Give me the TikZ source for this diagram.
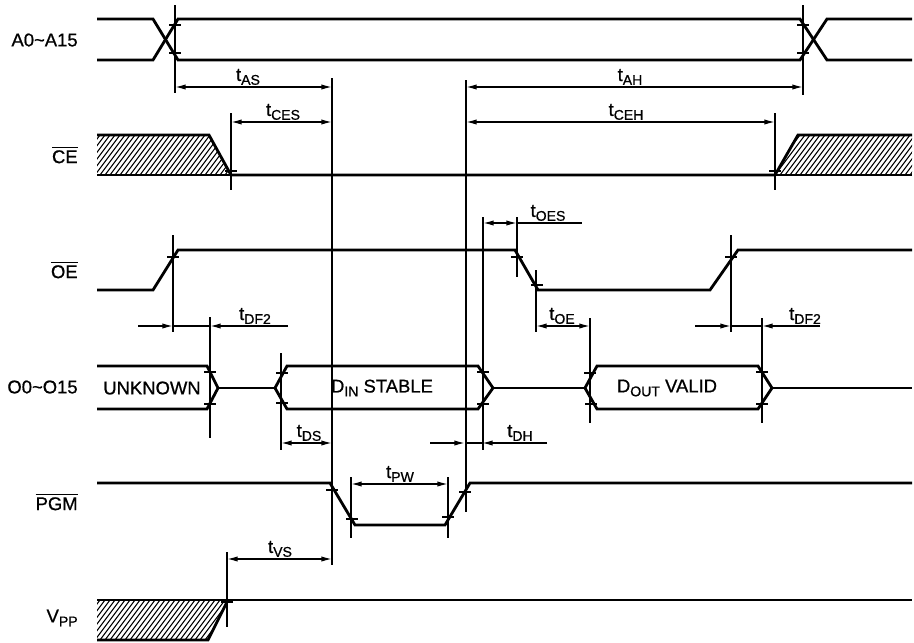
\documentclass[tikz,border=0pt]{standalone}
\usepackage{fontspec}
\setmainfont{Liberation Sans}[RawFeature={embolden=0.8}]
\usetikzlibrary{arrows.meta}
\newcommand\ovl[1]{$\overline{\mbox{#1}}$}
\newcommand\sbs[1]{\raisebox{-0.4ex}{\fontsize{8}{9}\selectfont #1}}
\newcommand\tim[1]{t\sbs{#1}}
\begin{document}
\begin{tikzpicture}[x=0.02cm, y=-0.02cm,
  font=\fontsize{10.5}{12}\selectfont,
  sig/.style={line width=1.6pt},
  guide/.style={line width=0.6pt},
  dim/.style={line width=0.8pt, {Latex[length=6pt,width=3pt]}-{Latex[length=6pt,width=3pt]}},
  dimto/.style={line width=0.8pt, -{Latex[length=6pt,width=3pt]}},
  tlabel/.style={anchor=south, inner sep=1pt},
  siglabel/.style={anchor=east, inner sep=0pt}]
  \useasboundingbox (0,0) rectangle (914,643);

  % Signal names
  \node[siglabel] (nA)   at (78,40)  {A0\textasciitilde A15};
  \node[siglabel] (nCE)  at (78,155) {\ovl{CE}};
  \node[siglabel] (nOE)  at (78,270) {\ovl{OE}};
  \node[siglabel] (nO)   at (78,387) {O0\textasciitilde O15};
  \node[siglabel] (nPGM) at (78,502) {\ovl{PGM}};
  \node[siglabel] (nVPP) at (78,618) {V\sbs{PP}};

  % Hatching (CE and VPP undefined)
  \begin{scope}
    \clip (97,135) -- (209,135) -- (231,175) -- (97,175) -- cycle;
    \foreach \x in {60,65,...,240} \draw[guide] (\x,175) -- ++(30,-40);
  \end{scope}
  \begin{scope}
    \clip (798,135) -- (912,135) -- (912,175) -- (775,175) -- cycle;
    \foreach \x in {740,745,...,920} \draw[guide] (\x,175) -- ++(30,-40);
  \end{scope}
  \begin{scope}
    \clip (97,600) -- (228,600) -- (208,640) -- (97,640) -- cycle;
    \foreach \x in {60,65,...,240} \draw[guide] (\x,640) -- ++(30,-40);
  \end{scope}

  % Waveforms
  \draw[sig] (97,19) -- (153,19) -- (178,60) -- (800,60) -- (827,19) -- (912,19);
  \draw[sig] (97,60) -- (153,60) -- (178,19) -- (800,19) -- (827,60) -- (912,60);
  \draw[sig] (97,135) -- (209,135) -- (231,175) -- (775,175) -- (798,135) -- (912,135);
  \draw[sig] (97,175) -- (912,175);
  \draw[sig] (97,290) -- (153,290) -- (178,250) -- (515,250) -- (538,290)
    -- (710,290) -- (738,250) -- (912,250);
  \draw[sig] (97,366) -- (207,366) -- (218,388) -- (207,409) -- (97,409);
  \draw[sig] (218,388) -- (275,388);
  \draw[sig] (287,366) -- (478,366) -- (493,388) -- (478,409) -- (287,409) -- (275,388) -- cycle;
  \draw[sig] (493,388) -- (585,388);
  \draw[sig] (597,366) -- (758,366) -- (772,388) -- (758,409) -- (597,409) -- (585,388) -- cycle;
  \draw[sig] (772,388) -- (912,388);
  \draw[sig] (97,483) -- (330,483) -- (355,525) -- (445,525) -- (470,483) -- (912,483);
  \draw[sig] (97,640) -- (208,640) -- (228,600);
  \draw[sig] (97,600) -- (912,600);

  % Bus texts
  \node (unk)  at (152,388) {UNKNOWN};
  \node (din)  at (382,388) {D\sbs{IN} STABLE};
  \node (dout) at (667,388) {D\sbs{OUT} VALID};

  % Reference lines
  \foreach \x/\ya/\yb in {175/5/93, 803/5/95, 332/78/565, 231/113/190, 466/80/512,
      775/113/190, 173/235/332, 517/217/277, 536/270/332, 483/217/450, 731/235/332,
      210/317/438, 762/318/423, 590/318/423, 281/353/450, 351/477/538, 448/477/538,
      227/552/627}
    \draw[guide] (\x,\ya) -- (\x,\yb);

  % Crossing ticks
  \foreach \x/\y in {175/25, 175/53, 803/25, 803/53, 231/171, 775/171, 173/257,
      517/257, 537/285, 731/257, 210/372, 210/404, 282/373, 282/403, 483/372,
      483/404, 590/373, 591/404, 762/372, 762/404, 332/490, 352/519, 448/517,
      465/492, 227/602}
    \draw[guide] (\x-6,\y) -- (\x+6,\y);

  % Timing arrows
  \draw[dim] (175,87) -- (332,87);
  \node[tlabel] (tAS) at (248,87) {\tim{AS}};
  \draw[dim] (231,122) -- (332,122);
  \node[tlabel] (tCES) at (283,122) {\tim{CES}};
  \draw[dim] (466,87) -- (803,87);
  \node[tlabel] (tAH) at (630,87) {\tim{AH}};
  \draw[dim] (466,122) -- (775,122);
  \node[tlabel] (tCEH) at (626,122) {\tim{CEH}};
  \draw[dim] (483,223) -- (517,223);
  \draw[guide, line width=0.8pt] (517,223) -- (582,223);
  \node[tlabel] (tOES) at (548,223) {\tim{OES}};
  \draw[dimto] (138,326) -- (173,326);
  \draw[guide, line width=0.8pt] (173,326) -- (210,326);
  \draw[dimto] (288,326) -- (210,326);
  \node[tlabel] (tDFa) at (255,326) {\tim{DF2}};
  \draw[dim] (536,326) -- (590,326);
  \node[tlabel] (tOE) at (562,326) {\tim{OE}};
  \draw[dimto] (695,326) -- (731,326);
  \draw[guide, line width=0.8pt] (731,326) -- (762,326);
  \draw[dimto] (820,326) -- (762,326);
  \node[tlabel] (tDFb) at (805,326) {\tim{DF2}};
  \draw[dim] (281,443) -- (332,443);
  \node[tlabel] (tDS) at (309,443) {\tim{DS}};
  \draw[dimto] (430,443) -- (465,443);
  \draw[guide, line width=0.8pt] (465,443) -- (482,443);
  \draw[dimto] (547,443) -- (482,443);
  \node[tlabel] (tDH) at (520,443) {\tim{DH}};
  \draw[dim] (351,484) -- (448,484);
  \node[tlabel] (tPW) at (400,484) {\tim{PW}};
  \draw[dim] (227,559) -- (332,559);
  \node[tlabel] (tVS) at (280,559) {\tim{VS}};
\end{tikzpicture}
\end{document}
